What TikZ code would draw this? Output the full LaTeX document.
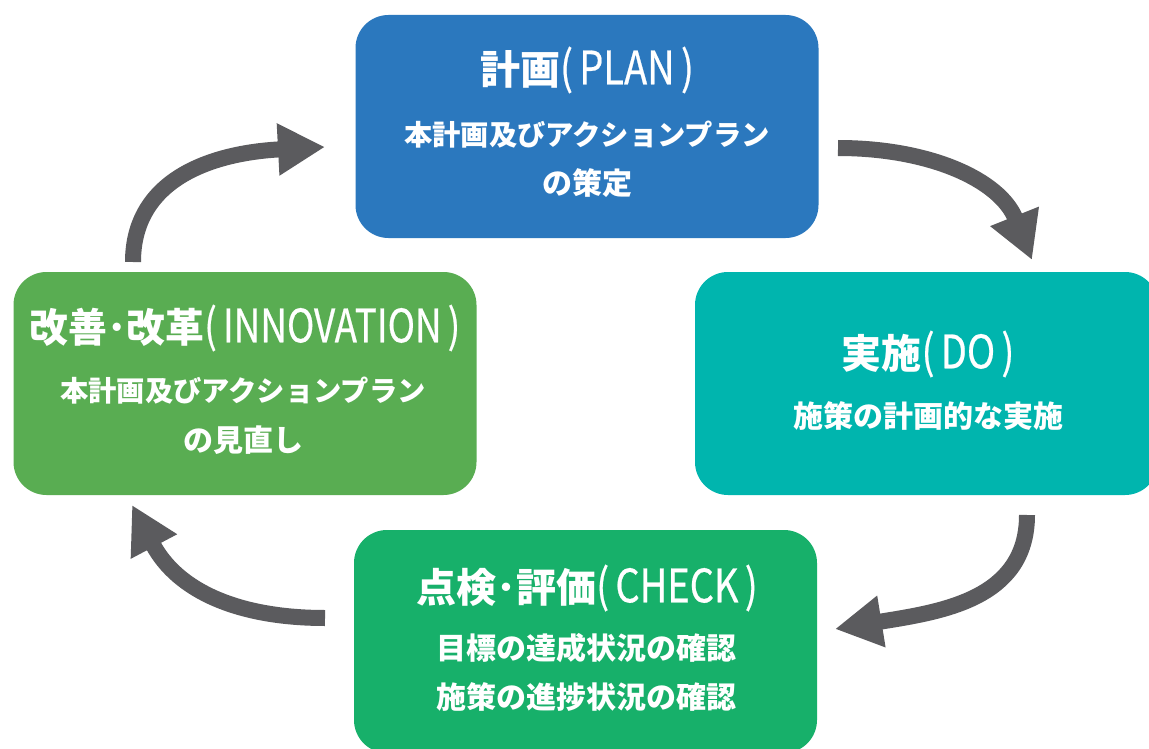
\documentclass[tikz,border=0pt]{standalone}
\usepackage{fontspec}
\setmainfont{Noto Sans CJK JP}
\newfontfamily\latfont[FakeBold=0.6]{Noto Sans CJK JP}
\usetikzlibrary{arrows.meta}
\definecolor{planc}{HTML}{2B78BE}
\definecolor{doc}{HTML}{00B5AE}
\definecolor{checkc}{HTML}{17B06A}
\definecolor{innovc}{HTML}{59AD52}
\definecolor{arrowc}{HTML}{5B5B5E}
\newcommand{\lat}[1]{\scalebox{0.95}[1.15]{\latfont #1}}
\begin{document}
\begin{tikzpicture}[x=1pt,y=-1pt,
  box/.style={rectangle, rounded corners=33pt, minimum width=463pt, minimum height=223pt, inner sep=0pt},
  ttl/.style={text=white, inner sep=0pt, anchor=center, font=\fontsize{40}{40}\selectfont},
  sub/.style={text=white, inner sep=0pt, anchor=center, font=\fontsize{30}{30}\selectfont\bfseries},
  subs/.style={sub, font=\fontsize{28.3}{28.3}\selectfont\bfseries},
  cyc/.style={draw=arrowc, line width=16pt, -{Triangle[length=47pt,width=49pt]}}]
\useasboundingbox (0,0) rectangle (1149,749);
\fill[white] (0,0) rectangle (1149,749);

% boxes
\node[box, fill=planc]  (plan)  at (587,126.5) {};
\node[box, fill=doc]    (do)    at (926.5,383.5) {};
\node[box, fill=checkc] (check) at (585.5,641.5) {};
\node[box, fill=innovc] (innov) at (245,383.5) {};

% texts
\node[ttl]  (plant)  at (587,70)  {{\bfseries 計画}\lat{(\,PLAN\,)}};
\node[subs] (plans1) at (587,135) {本計画及びアクションプラン};
\node[sub]  (plans2) at (587,183) {の策定};

\node[ttl]  (dot)  at (928,354) {{\bfseries 実施}\lat{(\,DO\,)}};
\node[sub]  (dos1) at (928,416) {施策の計画的な実施};

\node[ttl]  (checkt)  at (587,588) {{\bfseries 点検･評価}\lat{(\,CHECK\,)}};
\node[sub]  (checks1) at (586,648) {目標の達成状況の確認};
\node[sub]  (checks2) at (586,697) {施策の進捗状況の確認};

\node[ttl]  (innovt)  at (245,328) {\scalebox{0.97}[1]{{\bfseries 改善･改革}\lat{(\,INNOVATION\,)}}};
\node[subs] (innovs1) at (243,391) {本計画及びアクションプラン};
\node[sub]  (innovs2) at (243,440) {の見直し};

% arrow end points
\coordinate (a1s) at (838,148);
\coordinate (a1e) at (1032,260);
\coordinate (a2s) at (1027,515);
\coordinate (a2e) at (835,629);
\coordinate (a3s) at (325,618);
\coordinate (a3e) at (132,505);
\coordinate (a4s) at (133,262);
\coordinate (a4e) at (325,147);

\draw[cyc] (a1s) .. controls (930,148) and (1000,180) .. (a1e);
\draw[cyc] (a2s) .. controls (1027,600) and (940,612) .. (a2e);
\draw[cyc] (a3s) .. controls (240,618) and (178,592) .. (a3e);
\draw[cyc] (a4s) .. controls (133,180) and (210,153) .. (a4e);
\end{tikzpicture}
\end{document}
